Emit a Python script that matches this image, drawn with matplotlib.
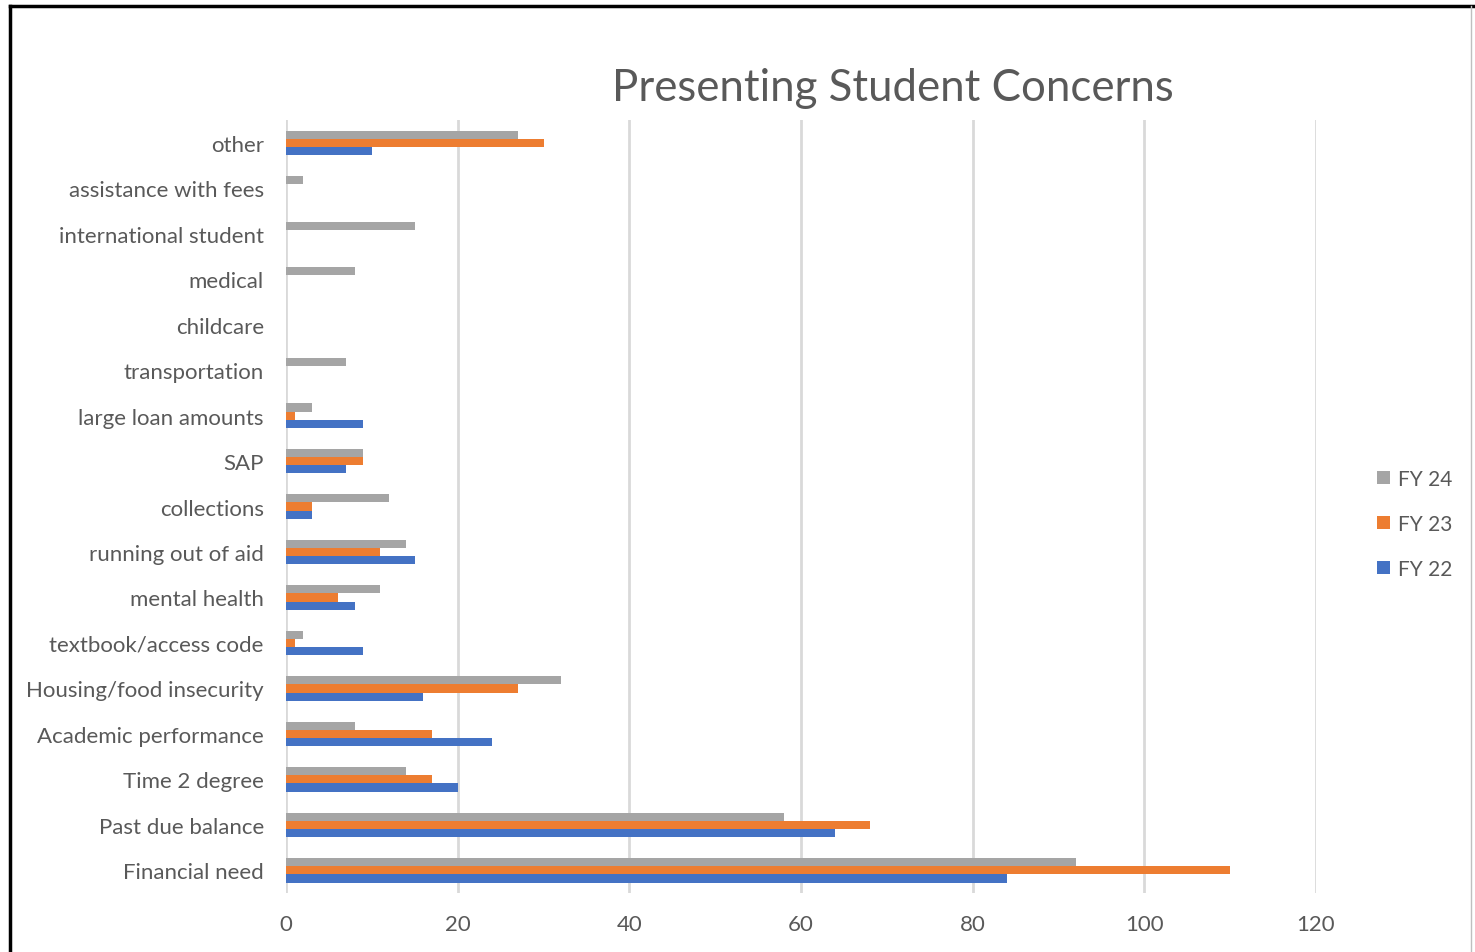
import numpy as np
import matplotlib.pyplot as plt
from matplotlib.lines import Line2D

plt.rcParams['font.family'] = ['Lato', 'DejaVu Sans']

# Categories listed bottom to top, as drawn
categories = ['Financial need', 'Past due balance', 'Time 2 degree', 'Academic performance',
              'Housing/food insecurity', 'textbook/access code', 'mental health',
              'running out of aid', 'collections', 'SAP', 'large loan amounts',
              'transportation', 'childcare', 'medical', 'international student',
              'assistance with fees', 'other']

fy22 = [84, 64, 20, 24, 16, 9, 8, 15, 3, 7, 9, 0, 0, 0, 0, 0, 10]
fy23 = [110, 68, 17, 17, 27, 1, 6, 11, 3, 9, 1, 0, 0, 0, 0, 0, 30]
fy24 = [92, 58, 14, 8, 32, 2, 11, 14, 12, 9, 3, 7, 0, 8, 15, 2, 27]

x_ticks = [0, 20, 40, 60, 80, 100, 120]

c22 = '#4472C4'
c23 = '#ED7D31'
c24 = '#A5A5A5'
text_col = '#595959'

fig = plt.figure(figsize=(14.75, 9.53), dpi=100)
ax = fig.add_axes([0.1939, 0.0619, 0.6983, 0.811])

y = np.arange(len(categories))
h = 0.18
ax.barh(y - h, fy22, height=h, color=c22, label='FY 22', zorder=3)
ax.barh(y, fy23, height=h, color=c23, label='FY 23', zorder=3)
ax.barh(y + h, fy24, height=h, color=c24, label='FY 24', zorder=3)

ax.set_xlim(0, 120)
ax.set_ylim(-0.5, len(categories) - 0.5)
ax.set_xticks(x_ticks)
ax.set_yticks(y)
ax.set_yticklabels(categories)
ax.tick_params(axis='both', length=0, labelsize=16, labelcolor=text_col)
ax.tick_params(axis='x', pad=15)
ax.tick_params(axis='y', pad=16)
ax.grid(axis='x', color='#D9D9D9', linewidth=2, zorder=0)
for s in ax.spines.values():
    s.set_visible(False)

fig.text(0.605, 0.907, 'Presenting Student Concerns', ha='center', va='center',
         fontsize=31.5, color=text_col)

handles, labels = ax.get_legend_handles_labels()
leg = fig.legend(handles[::-1], labels[::-1], loc='center left',
                 bbox_to_anchor=(0.921, 0.449), frameon=False, fontsize=15,
                 handlelength=0.6, handleheight=0.6, handletextpad=0.4,
                 labelspacing=1.2)
for t in leg.get_texts():
    t.set_color(text_col)

# chart frame
fig.add_artist(Line2D([10 / 1475, 10 / 1475], [0, 1 - 7 / 953], color='black',
                      linewidth=2.5, transform=fig.transFigure))
fig.add_artist(Line2D([10 / 1475, 1], [1 - 7 / 953, 1 - 7 / 953], color='black',
                      linewidth=2.5, transform=fig.transFigure))
fig.add_artist(Line2D([1471 / 1475, 1471 / 1475], [0, 1 - 7 / 953], color='#BFBFBF',
                      linewidth=1, transform=fig.transFigure))

fig.savefig('out.png', dpi=100)
